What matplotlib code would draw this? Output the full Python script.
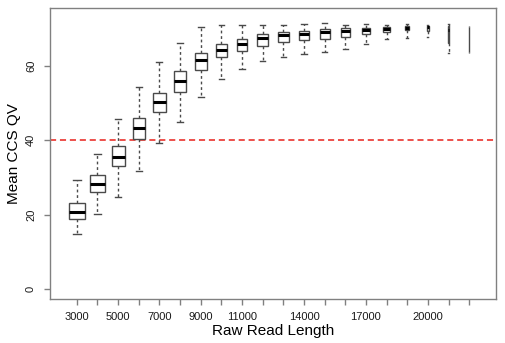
import numpy as np
import matplotlib
matplotlib.use('Agg')
import matplotlib.pyplot as plt

plt.rcParams['font.family'] = ['Liberation Sans', 'DejaVu Sans']

# raw read length bins (bp)
lengths = [3000, 4000, 5000, 6000, 7000, 8000, 9000, 10000, 11000, 12000,
           13000, 14000, 15000, 16000, 17000, 18000, 19000, 20000, 21000, 22000]
shown = [3000, 5000, 7000, 9000, 11000, 14000, 17000, 20000]

# five-number summaries of mean CCS QV per bin
whislo = [14.8, 20.1, 24.8, 31.8, 39.4, 44.9, 51.7, 56.6, 59.3, 61.3,
          62.5, 63.2, 63.7, 64.6, 65.9, 67.2, 67.6, 67.9, 63.4, 63.4]
q1 = [18.8, 26.1, 33.1, 40.4, 47.5, 53.0, 58.9, 62.3, 64.1, 65.5,
      66.4, 67.0, 67.3, 67.8, 68.5, 69.1, 69.6, 69.4, 66.2, 63.8]
med = [20.6, 28.3, 35.6, 43.2, 50.3, 56.0, 61.6, 64.3, 66.0, 67.4,
       68.4, 68.7, 69.1, 69.4, 69.7, 70.0, 70.3, 70.6, 69.8, 69.5]
q3 = [23.0, 30.6, 38.5, 45.9, 52.8, 58.6, 63.6, 65.9, 67.2, 68.5,
      69.1, 69.5, 69.9, 70.2, 70.3, 70.4, 70.8, 70.8, 70.8, 70.5]
whishi = [29.2, 36.2, 45.7, 54.4, 61.0, 66.1, 70.4, 70.9, 70.9, 71.1,
          70.9, 71.3, 71.5, 71.1, 71.2, 71.1, 71.2, 71.0, 71.2, 70.8]

# number of reads per bin (sets box width, like varwidth=TRUE)
n_reads = [10000, 7700, 6200, 5700, 5500, 5100, 4900, 4400, 4300, 4000,
           4000, 4000, 3700, 3300, 2700, 1700, 650, 230, 10, 10]

threshold = 40

stats = [dict(whislo=a, q1=b, med=c, q3=d, whishi=e, fliers=[])
         for a, b, c, d, e in zip(whislo, q1, med, q3, whishi)]
pos = np.arange(1, len(lengths) + 1)
n = np.array(n_reads, dtype=float)
widths = 0.8 * np.sqrt(n / n.max())

fig = plt.figure(figsize=(5.06, 3.43), dpi=100)
ax = fig.add_axes([50 / 506, 44 / 343, 446 / 506, 291 / 343])

edge = '#4a4a4a'
ax.bxp(stats, positions=pos, widths=widths, capwidths=widths / 2,
       patch_artist=True, showfliers=False,
       boxprops=dict(facecolor='white', edgecolor=edge, linewidth=1.0),
       medianprops=dict(color='black', linewidth=2.2, solid_capstyle='butt'),
       whiskerprops=dict(color=edge, linewidth=1.0, linestyle=(0, (2, 2))),
       capprops=dict(color=edge, linewidth=1.0))

ax.axhline(threshold, color='#e8201a', linewidth=1.1, linestyle=(0, (4, 2.5)),
           zorder=0.5)

ax.set_xlim(-0.3, 21.3)
ax.set_ylim(-2.7, 75.6)

ax.set_xticks(pos)
ax.set_xticklabels([str(v) if v in shown else '' for v in lengths])
ax.set_yticks([0, 20, 40, 60])
ax.set_yticklabels(['0', '20', '40', '60'], rotation=90, va='center')

axis_grey = '#808080'
for s in ax.spines.values():
    s.set_color(axis_grey)
    s.set_linewidth(1.0)
ax.tick_params(axis='both', colors=axis_grey, length=4, width=1.0,
               labelcolor='#1a1a1a', labelsize=8)
ax.tick_params(axis='x', pad=5)
ax.tick_params(axis='y', pad=6)

ax.set_xlabel('Raw Read Length', fontsize=11, labelpad=2)
ax.set_ylabel('Mean CCS QV', fontsize=11, labelpad=4)

fig.savefig('out.png', dpi=100)
